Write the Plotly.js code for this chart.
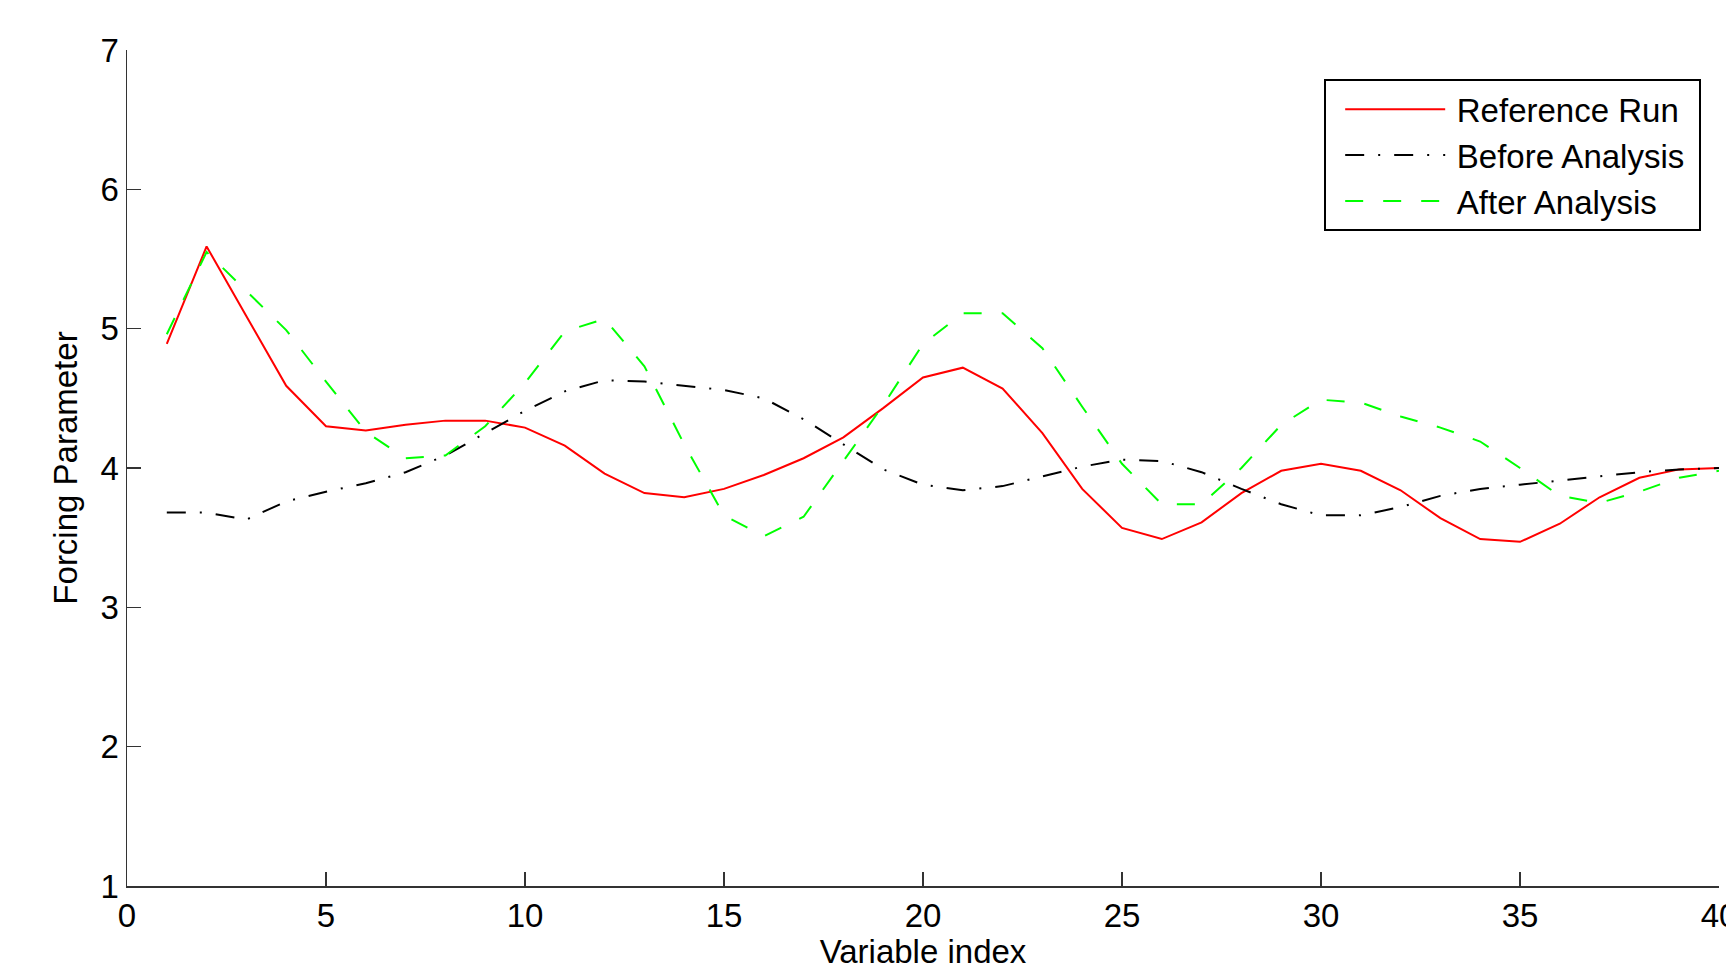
<!DOCTYPE html>
<html>
<head>
<meta charset="utf-8">
<script src="https://cdn.plot.ly/plotly-3.0.1.min.js"></script>
<style>
  html, body { margin: 0; padding: 0; background: #ffffff; }
  #chart { width: 1726px; height: 970px; }
</style>
</head>
<body>
<div id="chart"></div>
<script>
// ---- data ----
const variableIndex = [1,2,3,4,5,6,7,8,9,10,11,12,13,14,15,16,17,18,19,20,
                       21,22,23,24,25,26,27,28,29,30,31,32,33,34,35,36,37,38,39,40];

const referenceRun = [4.89,5.59,5.09,4.59,4.30,4.27,4.31,4.34,4.34,4.29,
                      4.16,3.96,3.82,3.79,3.85,3.95,4.07,4.22,4.43,4.65,
                      4.72,4.57,4.25,3.85,3.57,3.49,3.61,3.82,3.98,4.03,
                      3.98,3.84,3.64,3.49,3.47,3.60,3.79,3.93,3.99,4.00];

const beforeAnalysis = [3.68,3.68,3.63,3.76,3.83,3.89,3.97,4.09,4.25,4.41,
                        4.55,4.63,4.62,4.59,4.56,4.50,4.35,4.17,3.99,3.88,
                        3.84,3.87,3.94,4.01,4.06,4.05,3.97,3.85,3.74,3.66,
                        3.66,3.72,3.80,3.85,3.88,3.91,3.94,3.97,3.99,4.00];

const afterAnalysis = [4.96,5.55,5.27,4.99,4.62,4.26,4.07,4.09,4.30,4.61,
                       4.98,5.07,4.73,4.17,3.66,3.51,3.65,4.05,4.45,4.89,
                       5.11,5.11,4.86,4.44,4.03,3.74,3.74,4.00,4.31,4.49,
                       4.47,4.37,4.29,4.19,4.00,3.80,3.75,3.83,3.93,3.98];

const seriesNames = ['Reference Run', 'Before Analysis', 'After Analysis'];
const xTickVals = [0,5,10,15,20,25,30,35,40];
const yTickVals = [1,2,3,4,5,6,7];

// ---- chart ----
const FONT = '"Liberation Sans", Arial, Helvetica, sans-serif';
const legendName = n => '\u2009' + n + '\u00a0';

const traces = [
  {
    x: variableIndex, y: referenceRun, name: legendName(seriesNames[0]),
    type: 'scatter', mode: 'lines',
    line: { color: '#ff0000', width: 2 }
  },
  {
    x: variableIndex, y: beforeAnalysis, name: legendName(seriesNames[1]),
    type: 'scatter', mode: 'lines',
    line: { color: '#000000', width: 2, dash: '19px,14px,2px,14px' }
  },
  {
    x: variableIndex, y: afterAnalysis, name: legendName(seriesNames[2]),
    type: 'scatter', mode: 'lines',
    line: { color: '#00ff00', width: 2, dash: '18px,20px' }
  }
];

const layout = {
  width: 1726,
  height: 970,
  margin: { l: 127, r: 7, t: 50, b: 84, pad: 0 },
  paper_bgcolor: '#ffffff',
  plot_bgcolor: '#ffffff',
  font: { family: FONT, size: 33, color: '#000000' },
  showlegend: true,
  xaxis: {
    range: [0, 40],
    tickmode: 'array',
    tickvals: xTickVals,
    ticktext: xTickVals.map(String),
    ticks: 'inside',
    ticklen: 14,
    tickwidth: 1.5,
    tickcolor: '#333333',
    showline: true,
    linecolor: '#333333',
    linewidth: 1.5,
    mirror: false,
    showgrid: false,
    zeroline: false,
    automargin: false,
    ticklabeloverflow: 'allow',
    tickfont: { family: FONT, size: 33, color: '#000000' },
    title: { text: 'Variable index', font: { family: FONT, size: 33, color: '#000000' }, standoff: 13 }
  },
  yaxis: {
    range: [1, 7],
    tickmode: 'array',
    tickvals: yTickVals,
    ticktext: yTickVals.map(String),
    ticks: 'inside',
    ticklen: 14,
    tickwidth: 1.5,
    tickcolor: '#333333',
    showline: true,
    linecolor: '#333333',
    linewidth: 1.5,
    mirror: false,
    showgrid: false,
    zeroline: false,
    automargin: false,
    ticklabeloverflow: 'allow',
    tickfont: { family: FONT, size: 33, color: '#000000' },
    title: { text: 'Forcing Parameter', font: { family: FONT, size: 33, color: '#000000' }, standoff: 13 }
  },
  legend: {
    x: 0.752,
    y: 0.965,
    xanchor: 'left',
    yanchor: 'top',
    bgcolor: '#ffffff',
    bordercolor: '#000000',
    borderwidth: 2,
    itemwidth: 100,
    indentation: 14,
    font: { family: FONT, size: 33, color: '#000000' },
    tracegroupgap: 0
  }
};

Plotly.newPlot('chart', traces, layout, { displayModeBar: false, staticPlot: true });
</script>
</body>
</html>
